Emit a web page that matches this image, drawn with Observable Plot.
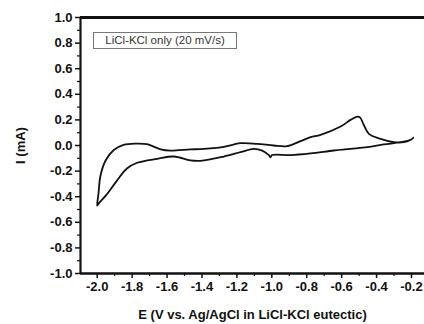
<!DOCTYPE html>
<html><head><meta charset="utf-8">
<script src="https://cdn.jsdelivr.net/npm/d3@7"></script>
<script src="https://cdn.jsdelivr.net/npm/@observablehq/plot@0.6"></script>
<style>
body{margin:0;background:#fff}
#wrap{position:relative;width:424px;height:324px}
#legend{position:absolute;left:93px;top:32px;width:144px;height:17px;border:1px solid #777;box-sizing:border-box;font:11.5px "Liberation Sans",Arial,sans-serif;color:#333;line-height:15px;text-align:center}
</style></head><body>
<div id="wrap"><div id="legend">LiCl-KCl only (20 mV/s)</div></div>
<script>
// Potential (V) along the cyclic scan: start at -0.2, sweep to -2.0, return to -0.2
const E = [-0.19,-0.206,-0.263,-0.359,-0.453,-0.549,-0.645,-0.778,-0.893,-0.998,-1.008,-1.017,-1.055,-1.103,-1.179,-1.275,-1.408,-1.466,-1.561,-1.656,-1.771,-1.83,-1.89,-1.95,-1.99,-2.0,
  -1.993,-1.981,-1.952,-1.905,-1.849,-1.78,-1.714,-1.637,-1.58,-1.466,-1.408,-1.275,-1.179,-1.084,-0.989,-0.912,-0.836,-0.778,-0.721,-0.606,-0.549,-0.511,-0.495,-0.473,-0.444,-0.377,-0.301,-0.244,-0.206,-0.19];
// Current (mA)
const I = [0.06,0.044,0.026,0.008,-0.013,-0.026,-0.039,-0.062,-0.075,-0.074,-0.09,-0.075,-0.04,-0.026,-0.052,-0.086,-0.12,-0.117,-0.086,-0.104,-0.135,-0.18,-0.28,-0.39,-0.45,-0.47,
  -0.38,-0.234,-0.117,-0.035,0.005,0.015,0.01,-0.03,-0.04,-0.03,-0.028,-0.01,0.018,0.013,0.0,-0.005,0.034,0.065,0.083,0.148,0.2,0.226,0.22,0.16,0.091,0.052,0.026,0.026,0.044,0.06];
const xMajor = [-2.0,-1.8,-1.6,-1.4,-1.2,-1.0,-0.8,-0.6,-0.4,-0.2];
const xMinor = [-1.9,-1.7,-1.5,-1.3,-1.1,-0.9,-0.7,-0.5,-0.3];
const yMajor = [-1.0,-0.8,-0.6,-0.4,-0.2,0.0,0.2,0.4,0.6,0.8,1.0];
const yMinor = [-0.9,-0.7,-0.5,-0.3,-0.1,0.1,0.3,0.5,0.7,0.9];
const xDomain = [-2.0957,-0.1255];
const yDomain = [-1, 1];
const xLabel = "E (V vs. Ag/AgCl in LiCl-KCl eutectic)";
const yLabel = "I (mA)";

const idx = d3.range(E.length);
const fmt = d => d.toFixed(1);
const chart = Plot.plot({
  width: 424, height: 324,
  marginLeft: 80, marginTop: 17, marginBottom: 51, marginRight: 0,
  style: {fontFamily: "'Liberation Sans', Arial, sans-serif", fontSize: "13px", fontWeight: "bold", color: "#111", background: "#fff"},
  x: {domain: xDomain},
  y: {domain: yDomain},
  marks: [
    Plot.axisX(xMajor, {tickSize: 5, tickPadding: 3, tickFormat: fmt, label: xLabel, labelAnchor: "center", labelOffset: 45, labelArrow: "none", strokeWidth: 1.5}),
    Plot.axisX(xMinor, {tickSize: 3, tickFormat: () => "", label: null, strokeWidth: 1.2}),
    Plot.axisY(yMajor, {tickSize: 5, tickPadding: 3, tickFormat: fmt, label: yLabel, labelAnchor: "center", labelOffset: 65, labelArrow: "none", strokeWidth: 1.5}),
    Plot.axisY(yMinor, {tickSize: 3, tickFormat: () => "", label: null, strokeWidth: 1.2}),
    Plot.ruleY([yDomain[1]], {stroke: "#111", strokeWidth: 3}),
    Plot.ruleY([yDomain[0]], {stroke: "#111", strokeWidth: 2.5}),
    Plot.ruleX([xDomain[0]], {stroke: "#111", strokeWidth: 2.2}),
    Plot.line(idx, {x: i => E[i], y: i => I[i], stroke: "#111", strokeWidth: 1.8, curve: "catmull-rom"})
  ]
});
document.getElementById("wrap").prepend(chart);
</script>
</body></html>
